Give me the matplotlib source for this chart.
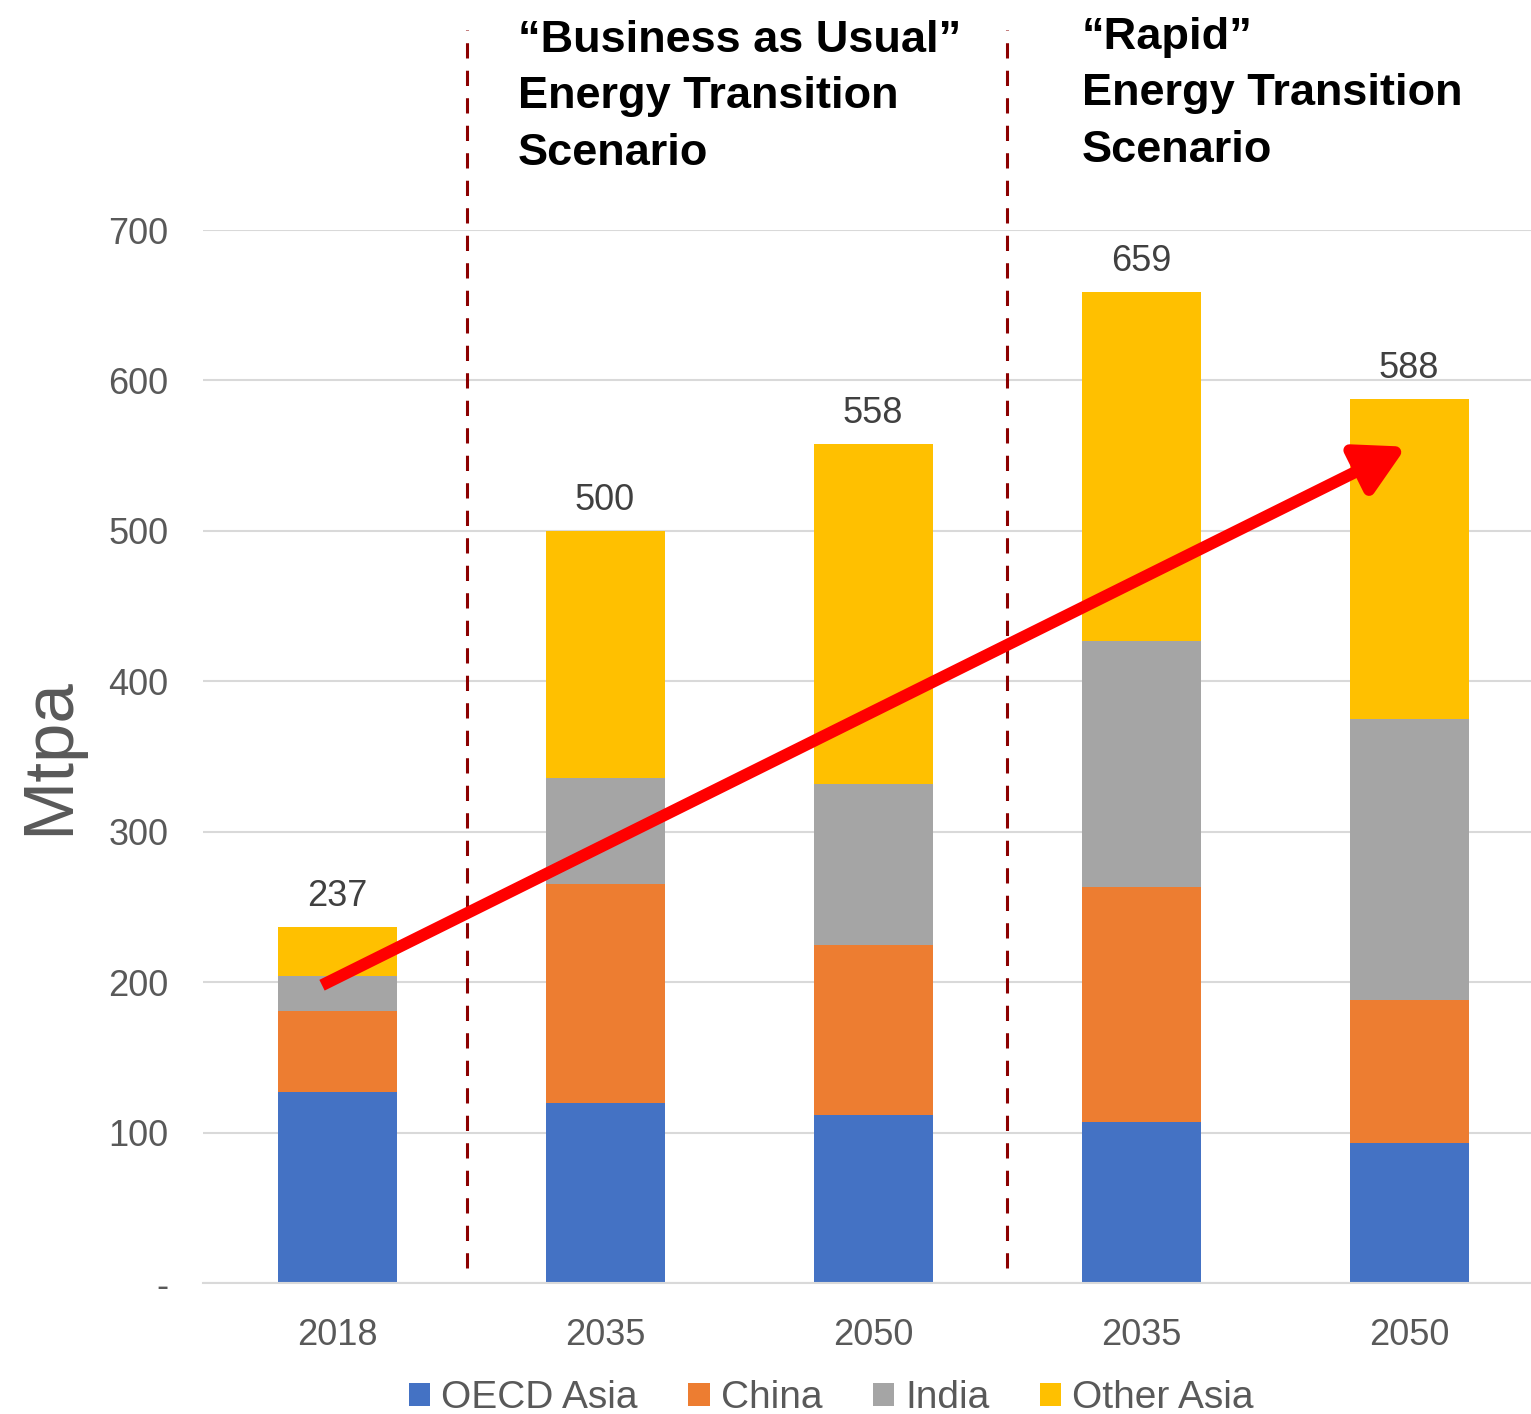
import numpy as np
import matplotlib
matplotlib.use("Agg")
import matplotlib.pyplot as plt

# data (Mtpa)
categories = ["2018", "2035", "2050", "2035", "2050"]
oecd_asia = [127, 120, 112, 107, 93]
china = [54, 145, 113, 156, 95]
india = [23, 71, 107, 164, 187]
other_asia = [33, 164, 226, 232, 213]
totals = [237, 500, 558, 659, 588]

series_names = ["OECD Asia", "China", "India", "Other Asia"]
series_colors = ["#4472C4", "#ED7D31", "#A5A5A5", "#FFC000"]

# trend arrow (start/end in data units)
arrow_start = (-0.056, 198)
arrow_end = (3.99, 556)
dividers = [0.485, 2.5]

plt.rcParams['font.family'] = ['Liberation Sans', 'DejaVu Sans']

fig = plt.figure(figsize=(15.31, 14.14), dpi=100)
ax = fig.add_axes([0.1326, 0.0926, 0.8674, 0.7447])

x = np.arange(len(categories))
bottom = np.zeros(len(categories))
for name, vals, col in zip(series_names, [oecd_asia, china, india, other_asia], series_colors):
    ax.bar(x, vals, width=0.444, bottom=bottom, color=col, label=name, zorder=2)
    bottom += np.array(vals)

# total labels
for xi, t in zip(x, totals):
    ax.annotate(str(t), (xi, t), xytext=(0, 9), textcoords="offset points",
                ha="center", va="bottom", fontsize=26, color="#404040")

ax.set_xlim(-0.5, 4.455)
ax.set_ylim(0, 700)
ax.set_yticks(range(0, 701, 100))
ax.set_yticklabels(["-"] + [str(v) for v in range(100, 701, 100)])
ax.set_xticks(x)
ax.set_xticklabels(categories)
ax.tick_params(axis="both", length=0, labelsize=26, labelcolor="#595959")
ax.tick_params(axis="y", pad=25)
ax.tick_params(axis="x", pad=25)
ax.grid(axis="y", color="#D9D9D9", lw=1.5, zorder=0)
ax.set_axisbelow(True)
for s in ["top", "right", "left"]:
    ax.spines[s].set_visible(False)
ax.spines["bottom"].set_color("#D9D9D9")
ax.spines["bottom"].set_linewidth(1.5)

ax.set_ylabel("Mtpa", fontsize=51, color="#595959", labelpad=18)

# scenario dividers
for d in dividers:
    ax.plot([d, d], [10, 833], color="#8B0000", lw=2.2, dashes=(5, 4),
            clip_on=False, zorder=3)

# arrow
ax.annotate("", xy=arrow_end, xytext=arrow_start,
            arrowprops=dict(arrowstyle="-|>,head_length=1.0,head_width=0.55",
                            mutation_scale=29, lw=8.6, color="#FF0000",
                            shrinkA=0, shrinkB=0, capstyle="butt"),
            zorder=4)

fig.text(0.3383, 0.986, "\u201cBusiness as Usual\u201d\nEnergy Transition\nScenario",
         ha="left", va="top", fontsize=32.5, fontweight="bold", linespacing=1.48)
fig.text(0.7067, 0.988, "\u201cRapid\u201d\nEnergy Transition\nScenario",
         ha="left", va="top", fontsize=32.5, fontweight="bold", linespacing=1.48)

fig.legend(loc="center", bbox_to_anchor=(0.543, 0.011), ncol=4, frameon=False,
           fontsize=28, handlelength=0.55, handleheight=0.55, handletextpad=0.28,
           columnspacing=1.3, labelcolor="#595959")

fig.savefig("out.png", dpi=100)
